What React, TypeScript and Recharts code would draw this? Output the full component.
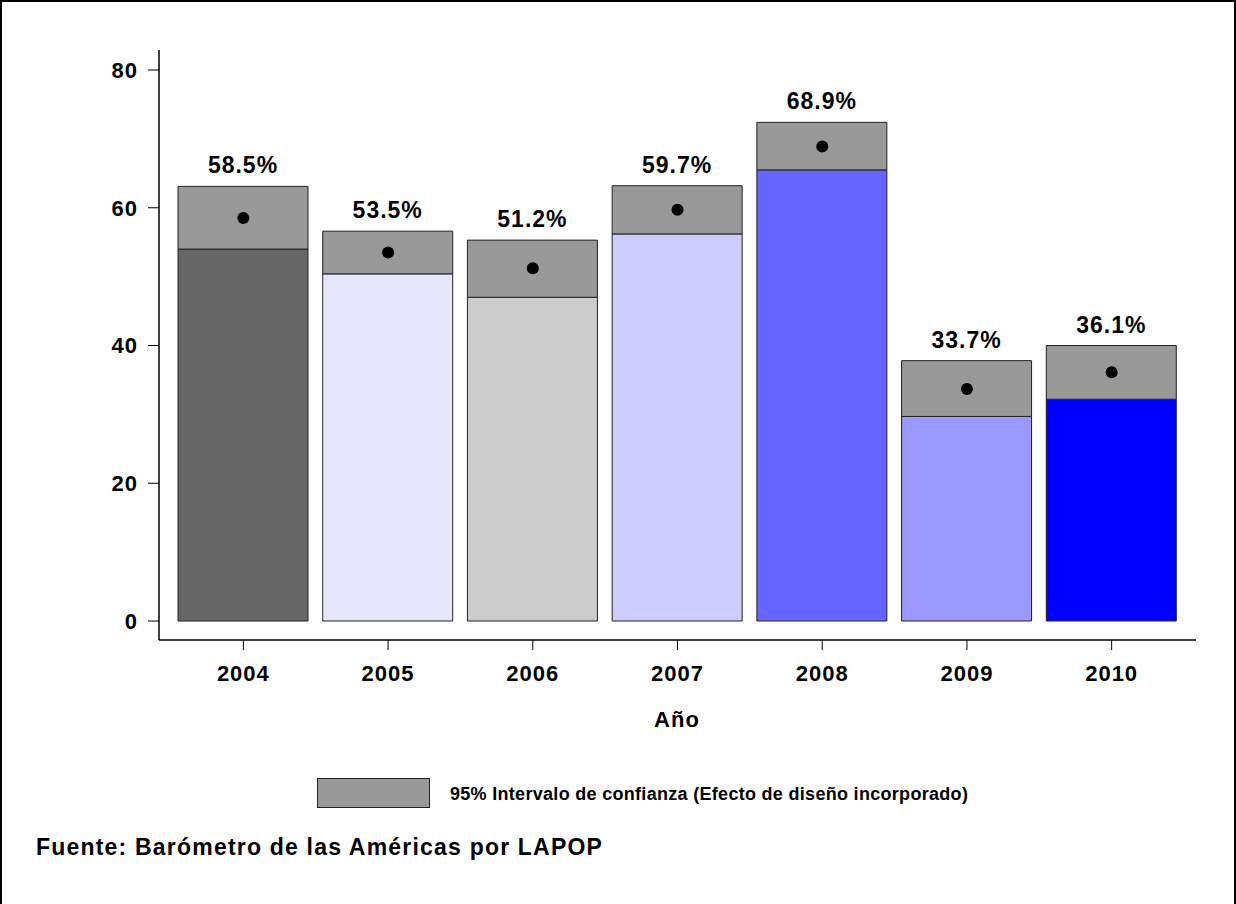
import { Bar, Cell, ComposedChart, LabelList, Line, XAxis, YAxis } from "recharts";

const years = ["2004", "2005", "2006", "2007", "2008", "2009", "2010"];
const means = [58.5, 53.5, 51.2, 59.7, 68.9, 33.7, 36.1];
const lowerCI = [54.0, 50.4, 47.0, 56.2, 65.5, 29.7, 32.2];
const upperCI = [63.1, 56.6, 55.3, 63.2, 72.4, 37.8, 40.0];
const barColors = ["#666666", "#e6e6fa", "#cccccc", "#ccccff", "#6666ff", "#9999ff", "#0000ff"];
const yTicks = [0, 20, 40, 60, 80];

const CI_FILL = "#999999";
const FONT = "'Liberation Sans', Arial, sans-serif";

const data = years.map((year, i) => ({
  year,
  lower: lowerCI[i],
  ci: +(upperCI[i] - lowerCI[i]).toFixed(2),
  mean: means[i],
  label: means[i].toFixed(1) + "%",
}));

const tickStyle = {
  fill: "#000",
  fontSize: 22,
  fontWeight: 700,
  fontFamily: FONT,
  letterSpacing: 1,
};

export default function App() {
  return (
    <div
      style={{
        position: "fixed",
        left: 0,
        top: 0,
        width: 1236,
        height: 904,
        background: "#fff",
        fontFamily: FONT,
        boxSizing: "border-box",
        borderLeft: "2px solid #000",
        borderTop: "2px solid #000",
        borderRight: "2px solid #000",
      }}
    >
      <div style={{ position: "absolute", left: -2, top: -2 }}>
        <ComposedChart
          width={1236}
          height={700}
          data={data}
          margin={{ top: 50, right: 40, bottom: 20, left: 99 }}
        >
          <YAxis
            type="number"
            domain={[0, 80]}
            ticks={yTicks}
            width={60}
            padding={{ top: 20, bottom: 19 }}
            tick={tickStyle}
            tickSize={11}
            tickMargin={10}
            stroke="#000"
            axisLine={{ stroke: "#000", strokeWidth: 1.5 }}
          />
          <XAxis
            dataKey="year"
            height={40}
            padding={{ left: 12, right: 12 }}
            tick={tickStyle}
            tickSize={10}
            tickMargin={15}
            stroke="#000"
            axisLine={{ stroke: "#000", strokeWidth: 1.5 }}
          />
          <Bar
            dataKey="lower"
            stackId="a"
            barSize={130}
            stroke="#222"
            strokeWidth={1}
            isAnimationActive={false}
          >
            {data.map((_, i) => (
              <Cell key={i} fill={barColors[i]} />
            ))}
          </Bar>
          <Bar
            dataKey="ci"
            stackId="a"
            barSize={130}
            fill={CI_FILL}
            stroke="#222"
            strokeWidth={1}
            isAnimationActive={false}
          >
            <LabelList
              dataKey="label"
              position="top"
              offset={13}
              style={{
                fill: "#000",
                fontSize: 23,
                fontWeight: 700,
                fontFamily: FONT,
                letterSpacing: 1,
              }}
            />
          </Bar>
          <Line
            dataKey="mean"
            stroke="none"
            dot={{ r: 6, fill: "#000", stroke: "none" }}
            activeDot={false}
            isAnimationActive={false}
          />
        </ComposedChart>
      </div>
      <div
        style={{
          position: "absolute",
          left: -2,
          width: 1236,
          paddingLeft: 118,
          boxSizing: "border-box",
          top: 705,
          textAlign: "center",
          fontSize: 22,
          fontWeight: 700,
          letterSpacing: 1,
        }}
      >
        Año
      </div>
      <div
        style={{
          position: "absolute",
          left: 315,
          top: 776,
          width: 111,
          height: 28,
          background: CI_FILL,
          border: "1px solid #222",
        }}
      />
      <div
        style={{
          position: "absolute",
          left: 448,
          top: 782,
          fontSize: 18,
          fontWeight: 700,
          letterSpacing: 0.3,
          whiteSpace: "nowrap",
        }}
      >
        95% Intervalo de confianza (Efecto de diseño incorporado)
      </div>
      <div
        style={{
          position: "absolute",
          left: 34,
          top: 832,
          fontSize: 23,
          fontWeight: 700,
          letterSpacing: 1.2,
          whiteSpace: "nowrap",
        }}
      >
        Fuente: Barómetro de las Américas por LAPOP
      </div>
    </div>
  );
}
